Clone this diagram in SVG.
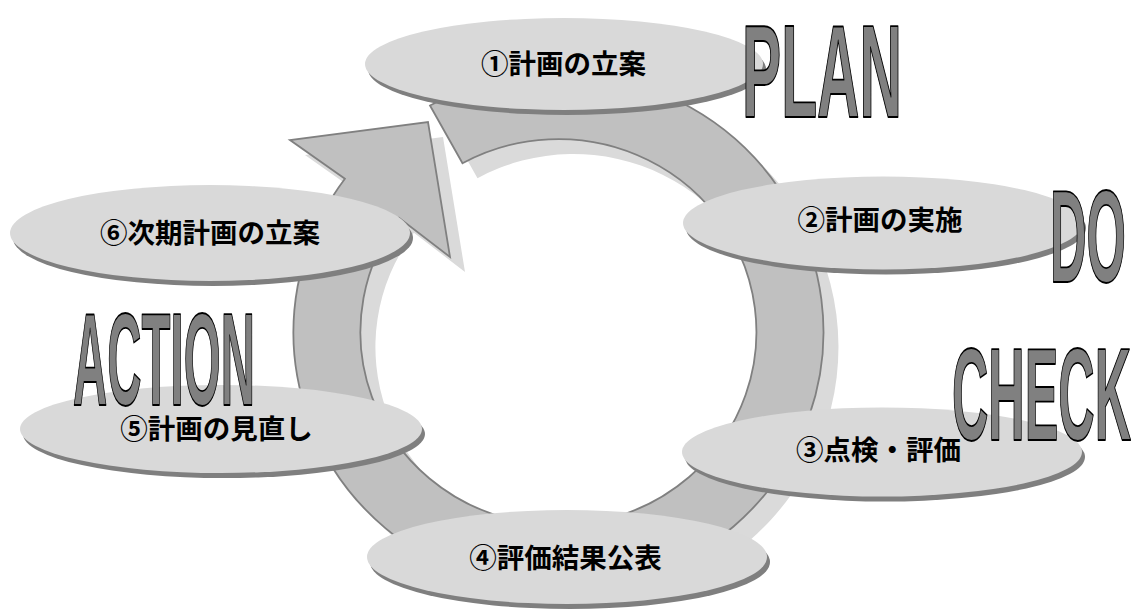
<svg xmlns="http://www.w3.org/2000/svg" width="1135" height="615" viewBox="0 0 1135 615">
<style>
.band{fill:#c0c0c0;stroke:#808080;stroke-width:1.8;stroke-linejoin:miter}
.bshadow{fill:#dadada;stroke:none}
.ell{fill:#d9d9d9;stroke:none}
.esh{fill:#7f7f7f;stroke:none}
.lbl{font-family:"Noto Sans CJK JP","Noto Sans",sans-serif;font-weight:bold;font-size:27.5px;fill:#000;text-anchor:middle}
.big{font-family:"Liberation Sans",Arial,sans-serif;font-weight:bold;font-size:132px;fill:#808080;stroke:#000;stroke-width:1.8;stroke-linejoin:round}
</style>
<defs>
<path id="ring" d="M 430,105.5 A 265 259 0 1 1 344.9,178.7 L 290,140 L 428,122 L 450,257 L 398.9,217.7 A 198 193 0 1 0 462.5,163.2 Z"/>
</defs>
<rect width="1135" height="615" fill="#fff"/>
<g id="connectors">
<use href="#ring" class="bshadow" transform="translate(15,15)"/>
<use href="#ring" class="band"/>
</g>
<g id="node1">
<ellipse class="esh" cx="567" cy="69" rx="199" ry="46"/>
<ellipse class="ell" cx="564" cy="64" rx="199" ry="46"/>
<text class="lbl" x="563.5" y="74">①計画の立案</text>
</g>
<g id="node2">
<ellipse class="esh" cx="886" cy="228" rx="200" ry="46.5"/>
<ellipse class="ell" cx="883" cy="223" rx="200" ry="46.5"/>
<text class="lbl" x="880" y="230">②計画の実施</text>
</g>
<g id="node3">
<ellipse class="esh" cx="885" cy="457" rx="200" ry="44.5"/>
<ellipse class="ell" cx="882" cy="452" rx="200" ry="44.5"/>
<text class="lbl" x="878.5" y="460">③点検・評価</text>
</g>
<g id="node4">
<ellipse class="esh" cx="570" cy="562" rx="200" ry="47"/>
<ellipse class="ell" cx="567" cy="557" rx="200" ry="47"/>
<text class="lbl" x="565.5" y="568">④評価結果公表</text>
</g>
<g id="node5">
<ellipse class="esh" cx="224" cy="434" rx="201" ry="44"/>
<ellipse class="ell" cx="221" cy="429" rx="201" ry="44"/>
<text class="lbl" x="216.5" y="439">⑤計画の見直し</text>
</g>
<g id="node6">
<ellipse class="esh" cx="213" cy="238" rx="200" ry="48"/>
<ellipse class="ell" cx="210" cy="233" rx="200" ry="48"/>
<text class="lbl" x="210" y="243">⑥次期計画の立案</text>
</g>
<g id="phases">
<text class="big" x="742" y="117" textLength="160" lengthAdjust="spacingAndGlyphs">PLAN</text>
<text class="big" x="1050" y="282" textLength="76" lengthAdjust="spacingAndGlyphs">DO</text>
<text class="big" x="952" y="440" textLength="179" lengthAdjust="spacingAndGlyphs">CHECK</text>
<text class="big" x="73" y="405" textLength="182" lengthAdjust="spacingAndGlyphs">ACTION</text>
</g>
</svg>
